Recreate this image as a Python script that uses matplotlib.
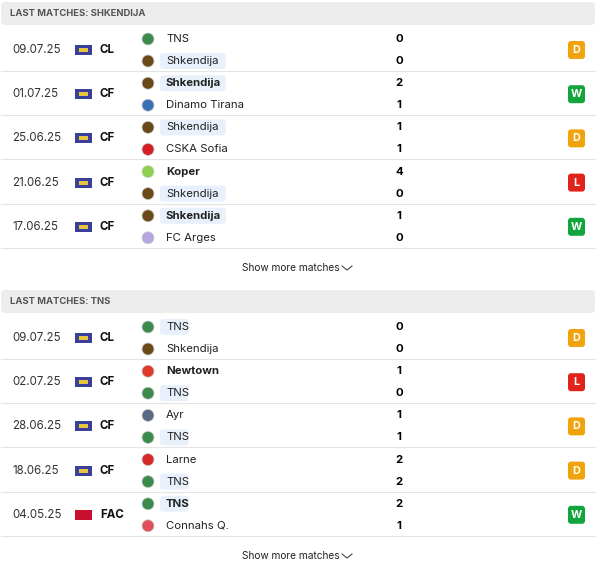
import matplotlib.pyplot as plt
from matplotlib.patches import FancyBboxPatch, Rectangle, Circle

plt.rcParams['font.family'] = 'Inter'

titles = ['LAST MATCHES: SHKENDIJA', 'LAST MATCHES: TNS']
focus = ['Shkendija', 'TNS']
dates = [['09.07.25', '01.07.25', '25.06.25', '21.06.25', '17.06.25'],
         ['09.07.25', '02.07.25', '28.06.25', '18.06.25', '04.05.25']]
comps = [['CL', 'CF', 'CF', 'CF', 'CF'],
         ['CL', 'CF', 'CF', 'CF', 'FAC']]
home = [['TNS', 'Shkendija', 'Shkendija', 'Koper', 'Shkendija'],
        ['TNS', 'Newtown', 'Ayr', 'Larne', 'TNS']]
away = [['Shkendija', 'Dinamo Tirana', 'CSKA Sofia', 'Shkendija', 'FC Arges'],
        ['Shkendija', 'TNS', 'TNS', 'TNS', 'Connahs Q.']]
home_goals = [[0, 2, 1, 4, 1], [0, 1, 1, 2, 2]]
away_goals = [[0, 1, 1, 0, 0], [0, 0, 1, 2, 1]]
results = [['D', 'W', 'D', 'L', 'W'], ['D', 'L', 'D', 'D', 'W']]

res_col = {'D': '#f0a30a', 'W': '#12a53c', 'L': '#e0231b'}
logo_col = {'TNS': '#3c8a4c', 'Shkendija': '#6b4a1a', 'Dinamo Tirana': '#3a6fb5',
            'CSKA Sofia': '#d21f26', 'Koper': '#8fd14f', 'FC Arges': '#b8a6e0',
            'Newtown': '#e03a2a', 'Ayr': '#5a6a85', 'Larne': '#d42a2a',
            'Connahs Q.': '#e0505a'}

fig = plt.figure(figsize=(6, 5.7), dpi=100)
ax = fig.add_axes([0, 0, 1, 1])
ax.set_xlim(0, 600)
ax.set_ylim(570, 0)
ax.axis('off')

tops = [2, 290]
for s in range(2):
    t = tops[s]
    ax.add_patch(FancyBboxPatch((1, t), 594, 23, boxstyle='round,pad=0,rounding_size=4',
                                fc='#ededed', ec='none'))
    ax.text(10, t + 12, titles[s], fontsize=6.8, weight='bold', color='#555555', va='center')
    y0 = t + 25
    for i in range(5):
        c = y0 + 23 + i * 44.2
        ax.plot([1, 595], [c + 21, c + 21], color='#e4e4e4', lw=0.8)
        ax.text(12, c, dates[s][i], fontsize=8.3, color='#333333', va='center')
        if comps[s][i] == 'FAC':
            ax.add_patch(Rectangle((75, c - 5), 17, 10, fc='#c8102e', ec='none'))
        else:
            ax.add_patch(Rectangle((75, c - 5), 17, 10, fc='#3a3f9a', ec='none'))
            ax.add_patch(Rectangle((79, c - 2), 9, 4, fc='#e8c340', ec='none'))
        ax.text(100, c, comps[s][i], fontsize=8.3, weight='bold', color='#111111', va='center')
        hg, ag = home_goals[s][i], away_goals[s][i]
        for team, g, dy, win in [(home[s][i], hg, -11, hg > ag), (away[s][i], ag, 11, ag > hg)]:
            yy = c + dy
            ax.add_patch(Circle((148, yy), 6, fc=logo_col[team], ec='#cccccc', lw=0.5))
            if team == focus[s]:
                w = len(team) * 6.2 + 10
                ax.add_patch(FancyBboxPatch((160, yy - 8), w, 16,
                                            boxstyle='round,pad=0,rounding_size=3',
                                            fc='#e8f1fb', ec='none'))
            ax.text(166, yy, team, fontsize=8.2, va='center', color='#222222',
                    weight='bold' if win else 'normal')
            ax.text(399, yy, str(g), fontsize=8.2, weight='bold', va='center', ha='center')
        r = results[s][i]
        ax.add_patch(FancyBboxPatch((568, c - 9), 17, 18, boxstyle='round,pad=0,rounding_size=3',
                                    fc=res_col[r], ec='none'))
        ax.text(576.5, c, r, fontsize=7.8, weight='bold', color='white', ha='center', va='center')
    ly = y0 + 5 * 44.2 + 20
    ax.text(242, ly, 'Show more matches', fontsize=7.3, color='#222222', ha='left', va='center')
    ax.plot([342, 347, 352], [ly - 2, ly + 2, ly - 2], color='#444444', lw=0.8)

fig.savefig('out.png', dpi=100, facecolor='white')
